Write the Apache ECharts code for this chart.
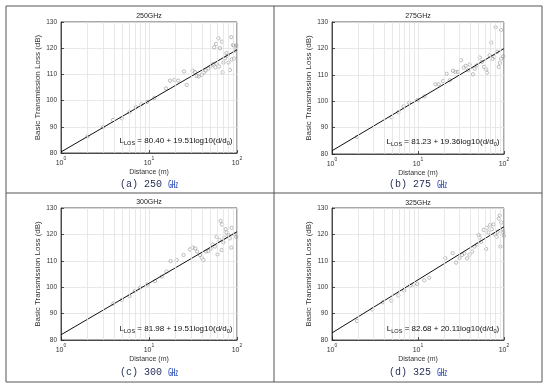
<!DOCTYPE html>
<html>
<head>
<meta charset="utf-8">
<script src="https://cdn.jsdelivr.net/npm/echarts@6/dist/echarts.min.js"></script>
<style>
html,body{margin:0;padding:0;background:#fff;}
#chart{width:549px;height:384px;}
</style>
</head>
<body>
<div id="chart"></div>
<script>
// ---- data ----
const panelTitles = ['250GHz', '275GHz', '300GHz', '325GHz'];
const captionLabels = ['(a) 250 ', '(b) 275 ', '(c) 300 ', '(d) 325 '];
const fitIntercepts = ['80.40', '81.23', '81.98', '82.68'];
const fitSlopes = ['19.51', '19.36', '19.51', '20.11'];
const minorGridValues = [2, 3, 4, 5, 6, 7, 8, 9, 20, 30, 40, 50, 60, 70, 80, 90];

const dist250 = [2, 3, 3.9, 4.9, 6, 7.1, 8.2, 9.5, 11.5, 15.6, 17.3, 19.4, 21.5, 25, 26.8, 31.4, 33.3, 34.8, 36.7, 39.7, 42, 44, 47.2, 50, 52.8, 55, 56.7, 57.8, 58.8, 61.5, 62.5, 64, 67.5, 68.6, 70, 73, 76, 78, 80, 83, 86, 87, 90, 92.5, 92.5, 95, 98];
const loss250 = [86.3, 89.9, 92.6, 93.3, 95.6, 97.5, 98.6, 99.5, 101, 104.7, 107.6, 107.9, 107.6, 111.1, 106, 111.4, 110.9, 109.4, 109.2, 109.8, 110.7, 111.5, 112.3, 113, 113.9, 120.3, 112.7, 121.6, 114.1, 123.8, 113, 120, 122.5, 110.8, 114.5, 116.1, 118.1, 117.2, 114.5, 111.7, 124.2, 115.7, 121.2, 120.9, 116.1, 119.1, 121];

const dist275 = [1.95, 4.9, 5.9, 6.8, 7.9, 9.9, 11.9, 15.9, 17.4, 19.5, 21.5, 23.4, 25.5, 27.2, 29, 31.6, 34, 35.9, 38.1, 39.9, 43.6, 45.6, 48.5, 52.3, 55.5, 58.6, 62, 63.4, 68, 71.1, 73.6, 77, 80, 83, 86.9, 89.4, 92.5, 92.5, 98];
const loss275 = [86.5, 93.9, 95.8, 98, 99.4, 100.5, 101.8, 106.4, 106.4, 107.6, 110.4, 107.9, 111.5, 111.1, 111.1, 115.5, 112.7, 113.4, 111.7, 113.9, 110.2, 112.3, 113.6, 116.5, 114.9, 113, 112, 110.8, 117.4, 122.2, 116.1, 116.8, 128, 118.7, 113, 114.5, 127, 116.1, 117];

const dist300 = [3.93, 4.9, 6, 6.9, 7.9, 9.6, 11.7, 14, 15.8, 17.6, 20.6, 24.7, 29.2, 31.3, 33.4, 35.3, 38, 39.7, 41.6, 44.5, 47.3, 50, 52.8, 56, 58.6, 60, 63, 65, 67, 67.5, 70, 72, 74.4, 76, 80, 83, 86, 87, 93, 98];
const loss300 = [93.8, 95.2, 96.6, 98.6, 99.8, 101, 102.3, 104, 105.9, 109.9, 110.3, 112.2, 114.3, 115, 114.7, 113.5, 112.2, 111.2, 110.3, 113.5, 113.7, 114.5, 116.2, 115.4, 119.1, 112.4, 117.9, 125.1, 114.1, 123.8, 117, 118.8, 122, 120.8, 119.8, 118.5, 115, 122.5, 120, 119];

const dist325 = [1.95, 2.94, 3.9, 4.9, 5.9, 6.9, 8.1, 8.9, 9.8, 11.8, 13.5, 20.8, 25.3, 27.8, 30.4, 32.5, 34.6, 37.1, 39.7, 42.5, 45.3, 48.5, 50.8, 52.3, 54.2, 58.1, 62, 63.3, 66, 69, 72, 75.3, 78.5, 82, 84, 86.9, 89.4, 91, 93, 96, 98, 99.5];
const loss325 = [87.2, 91.6, 94.3, 94.9, 96.9, 98.8, 100.6, 101, 101.2, 102.6, 103.6, 111, 112.9, 109.3, 111, 112.2, 112.8, 110.9, 112.3, 113.5, 115.4, 116.2, 119.8, 118.8, 117.2, 121.7, 114.5, 122.5, 120.8, 123.6, 122, 123.8, 120, 119.1, 121, 126, 127.2, 115.4, 124.5, 122, 120.8, 119.5];

// fitted line end points (d = 1 m and d = 100 m)
const fitDist = [1, 100];
const fit250 = [80.40, 119.42];
const fit275 = [81.23, 119.95];
const fit300 = [81.98, 121.00];
const fit325 = [82.68, 122.90];

const distSets = [dist250, dist275, dist300, dist325];
const lossSets = [loss250, loss275, loss300, loss325];
const fitSets = [fit250, fit275, fit300, fit325];

// ---- layout ----
const grids = [
  {left: 61, top: 22, width: 176, height: 131},
  {left: 332, top: 22, width: 172, height: 132},
  {left: 61, top: 208, width: 176, height: 132},
  {left: 332, top: 208, width: 172, height: 132}
];
const titleTops = [12.5, 12.5, 198.5, 200];
const captionY = [184, 184, 372, 372];
const formulaPos = [[176, 141], [443, 142], [176, 329], [443, 329]];

const axisColor = '#262626';
const gridColor = '#e2e2e2';

const chart = echarts.init(document.getElementById('chart'), null, {renderer: 'canvas'});

const option = {
  backgroundColor: '#ffffff',
  animation: false,
  title: grids.map((g, i) => ({
    text: panelTitles[i],
    left: g.left + g.width / 2,
    top: titleTops[i],
    textAlign: 'center',
    padding: 0,
    textStyle: {fontFamily: 'Liberation Sans', fontSize: 7, fontWeight: 'normal', color: '#222'}
  })),
  grid: grids.map(g => Object.assign({show: true, borderColor: axisColor, borderWidth: 0.8, backgroundColor: '#fff'}, g)),
  xAxis: grids.map((g, i) => ({
    type: 'log',
    logBase: 10,
    gridIndex: i,
    min: 1,
    max: 100,
    name: 'Distance (m)',
    nameLocation: 'middle',
    nameGap: 16,
    nameTextStyle: {fontFamily: 'Liberation Sans', fontSize: 7, color: '#333'},
    axisLine: {show: true, lineStyle: {color: axisColor, width: 0.8}},
    axisTick: {show: true, inside: true, length: 3, lineStyle: {color: axisColor, width: 0.8}},
    splitLine: {show: true, lineStyle: {color: gridColor, width: 0.8}},
    axisLabel: {
      margin: 3,
      color: '#333',
      formatter: v => '{a|10}{s|' + Math.round(Math.log10(v)) + '}',
      rich: {
        a: {fontFamily: 'Liberation Sans', fontSize: 7, color: '#333', verticalAlign: 'bottom', lineHeight: 11},
        s: {fontFamily: 'Liberation Sans', fontSize: 5, color: '#333', verticalAlign: 'top', lineHeight: 11}
      }
    }
  })),
  yAxis: grids.map((g, i) => ({
    type: 'value',
    gridIndex: i,
    min: 80,
    max: 130,
    interval: 10,
    name: 'Basic Transmission Loss (dB)',
    nameLocation: 'middle',
    nameGap: 14,
    nameRotate: 90,
    nameTextStyle: {fontFamily: 'Liberation Sans', fontSize: 8, color: '#333'},
    axisLine: {show: true, lineStyle: {color: axisColor, width: 0.8}},
    axisTick: {show: true, inside: true, length: 3, lineStyle: {color: axisColor, width: 0.8}},
    splitLine: {show: true, lineStyle: {color: gridColor, width: 0.8}},
    axisLabel: {margin: 4, fontFamily: 'Liberation Sans', fontSize: 6.5, color: '#333'}
  })),
  series: [].concat(...grids.map((g, i) => [
    {
      type: 'scatter',
      xAxisIndex: i,
      yAxisIndex: i,
      data: [],
      silent: true,
      z: 1,
      markLine: {
        silent: true,
        symbol: 'none',
        label: {show: false},
        animation: false,
        lineStyle: {color: gridColor, width: 0.8, type: 'solid'},
        data: minorGridValues.map(v => ({xAxis: v}))
      }
    },
    {
      type: 'scatter',
      xAxisIndex: i,
      yAxisIndex: i,
      z: 2,
      symbol: 'circle',
      symbolSize: 3.3,
      itemStyle: {color: 'rgba(255,255,255,0)', borderColor: '#999', borderWidth: 0.8},
      data: distSets[i].map((d, k) => [d, lossSets[i][k]])
    },
    {
      type: 'line',
      xAxisIndex: i,
      yAxisIndex: i,
      z: 3,
      symbol: 'none',
      lineStyle: {color: '#111', width: 1},
      data: fitDist.map((d, k) => [d, fitSets[i][k]])
    }
  ])),
  graphic: [
    {type: 'rect', shape: {x: 6, y: 6, width: 536, height: 376}, style: {fill: 'none', stroke: '#555', lineWidth: 1}, silent: true},
    {type: 'line', shape: {x1: 274, y1: 6, x2: 274, y2: 382}, style: {stroke: '#555', lineWidth: 1}, silent: true},
    {type: 'line', shape: {x1: 6, y1: 193, x2: 542, y2: 193}, style: {stroke: '#555', lineWidth: 1}, silent: true}
  ].concat(grids.map((g, i) => ({
    type: 'text',
    x: g.left + g.width / 2,
    y: captionY[i],
    silent: true,
    style: {
      text: '{t|' + captionLabels[i] + '}{g|㎓}',
      align: 'center',
      verticalAlign: 'middle',
      rich: {
        t: {fontFamily: 'Liberation Mono', fontSize: 10, fill: '#27305a'},
        g: {fontFamily: 'Noto Sans CJK KR', fontSize: 10, fill: '#2e4fb8'}
      }
    }
  }))).concat(grids.map((g, i) => ({
    type: 'text',
    x: formulaPos[i][0],
    y: formulaPos[i][1],
    z: 10,
    silent: true,
    style: {
      text: '{m|L}{b|LOS}{m| = ' + fitIntercepts[i] + ' + ' + fitSlopes[i] + 'log10(d/d}{b|0}{m|)}',
      align: 'center',
      verticalAlign: 'middle',
      rich: {
        m: {fontFamily: 'Liberation Sans', fontSize: 8, fill: '#111', verticalAlign: 'middle', lineHeight: 11},
        b: {fontFamily: 'Liberation Sans', fontSize: 5.6, fill: '#111', verticalAlign: 'bottom'}
      }
    }
  })))
};

chart.setOption(option);
</script>
</body>
</html>
